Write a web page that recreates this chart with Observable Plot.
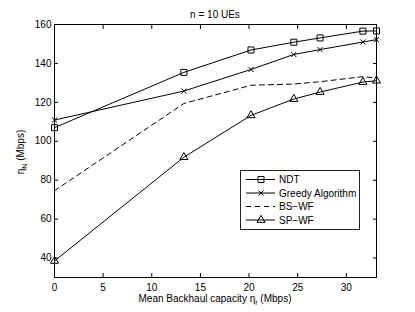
<!DOCTYPE html>
<html><head><meta charset="utf-8">
<script src="https://cdn.jsdelivr.net/npm/d3@7"></script>
<script src="https://cdn.jsdelivr.net/npm/@observablehq/plot@0.6"></script>
<style>
body{margin:0;background:#fff}
#chart svg{font-family:"Liberation Sans",Arial,Helvetica,sans-serif;font-size:10px;background:#fff;overflow:visible}
</style>
</head><body><div id="chart"></div>
<script>
const xValues = [0, 13.3, 20.2, 24.6, 27.3, 31.7, 33.1];
const ndt    = [107.0, 135.4, 146.9, 150.9, 153.1, 156.6, 156.7];
const greedy = [110.9, 125.8, 136.9, 144.6, 147.1, 151.0, 152.2];
const bswf   = [74.6, 119.4, 128.8, 129.4, 130.6, 133.2, 132.5];
const spwf   = [38.5, 91.8, 113.3, 121.7, 125.3, 130.4, 131.1];
const seriesNames = ["NDT", "Greedy Algorithm", "BS\u2212WF", "SP\u2212WF"];
const xTicks = [0, 5, 10, 15, 20, 25, 30];
const yTicks = [40, 60, 80, 100, 120, 140, 160];
const titleText = "n = 10 UEs";

const toRows = (vals, name) => xValues.map((x, i) => ({x, y: vals[i], series: name}));
const rowsNDT = toRows(ndt, seriesNames[0]);
const rowsGreedy = toRows(greedy, seriesNames[1]);
const rowsBS = toRows(bswf, seriesNames[2]);
const rowsSP = toRows(spwf, seriesNames[3]);

const styles = [
  {name: seriesNames[0], symbol: "square", d3symbol: d3.symbolSquare, r: 3.4, dash: null},
  {name: seriesNames[1], symbol: "times", d3symbol: d3.symbolTimes, r: 2.4, dash: null},
  {name: seriesNames[2], symbol: null, d3symbol: null, r: 0, dash: "5,4"},
  {name: seriesNames[3], symbol: "triangle", d3symbol: d3.symbolTriangle, r: 3.0, dash: null}
];

function legendMark(index, scales, values, dimensions) {
  const {width, marginRight, marginTop} = dimensions;
  const boxW = 119, boxH = 59, rowH = 13.5;
  const x0 = width - marginRight - 17 - boxW;
  const y0 = marginTop + 146;
  const g = d3.create("svg:g").attr("text-anchor", "start");
  g.append("rect").attr("x", x0 + 0.5).attr("y", y0 + 0.5).attr("width", boxW).attr("height", boxH)
    .attr("fill", "white").attr("stroke", "#222").attr("stroke-width", 1);
  styles.forEach((s, i) => {
    const cy = y0 + 9.5 + i * rowH;
    g.append("line").attr("x1", x0 + 6).attr("x2", x0 + 35).attr("y1", cy).attr("y2", cy)
      .attr("stroke", "black").attr("stroke-width", 1).attr("stroke-dasharray", s.dash);
    if (s.d3symbol) {
      g.append("path").attr("transform", `translate(${x0 + 21},${cy})`)
        .attr("d", d3.symbol(s.d3symbol, Math.PI * s.r * s.r)())
        .attr("fill", "none").attr("stroke", "black").attr("stroke-width", 1);
    }
    g.append("text").attr("x", x0 + 39).attr("y", cy).attr("dy", "0.35em").attr("text-anchor", "start")
      .attr("font-size", 10).attr("fill", "black").text(s.name);
  });
  return g.node();
}

const lineMarks = [rowsNDT, rowsGreedy, rowsBS, rowsSP].map((rows, i) =>
  Plot.line(rows, {x: "x", y: "y", stroke: "black", strokeWidth: 1, strokeDasharray: styles[i].dash}));
const dotMarks = [rowsNDT, rowsGreedy, rowsBS, rowsSP].map((rows, i) =>
  styles[i].symbol ? Plot.dot(rows, {x: "x", y: "y", symbol: () => styles[i].symbol, r: styles[i].r, stroke: "black", fill: "none", strokeWidth: 1}) : null);

const chart = Plot.plot({
  width: 415,
  height: 312,
  marginLeft: 54,
  marginRight: 39,
  marginTop: 24,
  marginBottom: 35,
  style: {fontFamily: '"Liberation Sans", Arial, Helvetica, sans-serif', fontSize: "10px", color: "black"},
  x: {domain: [0, 33.1]},
  y: {domain: [30, 160]},
  symbol: {type: "identity"},
  marks: [
    ...lineMarks,
    ...dotMarks.filter(Boolean),
    Plot.axisX({anchor: "bottom", ticks: xTicks, tickSize: -4, tickPadding: 10, label: null, fontSize: 10}),
    Plot.axisX({anchor: "top", ticks: xTicks, tickSize: -4, tickFormat: () => "", label: null}),
    Plot.axisY({anchor: "left", ticks: yTicks, tickSize: -4, tickPadding: 7, label: null, fontSize: 10}),
    Plot.axisY({anchor: "right", ticks: yTicks, tickSize: -4, tickFormat: () => "", label: null}),
    Plot.frame({stroke: "black", strokeWidth: 1}),
    legendMark
  ]
});

const svg = d3.select(chart);
const fx0 = 54, fx1 = 376;
// title
svg.append("text").attr("x", (fx0 + fx1) / 2).attr("y", 18).attr("text-anchor", "middle")
  .attr("font-size", 10).attr("fill", "black").text(titleText);
// x label
const xl = svg.append("text").attr("x", (fx0 + fx1) / 2).attr("y", 302).attr("text-anchor", "middle")
  .attr("font-size", 10).attr("fill", "black");
xl.append("tspan").text("Mean Backhaul capacity \u03b7");
xl.append("tspan").attr("font-size", 7).attr("dy", 3).text("r");
xl.append("tspan").attr("dy", -3).text(" (Mbps)");
// y label
const yl = svg.append("text").attr("transform", "translate(24,152) rotate(-90)").attr("text-anchor", "middle")
  .attr("font-size", 10).attr("fill", "black");
yl.append("tspan").text("\u03b7");
yl.append("tspan").attr("font-size", 7).attr("dy", 3).text("N");
yl.append("tspan").attr("dy", -3).text(" (Mbps)");

document.getElementById("chart").append(chart);
</script>
</body></html>
